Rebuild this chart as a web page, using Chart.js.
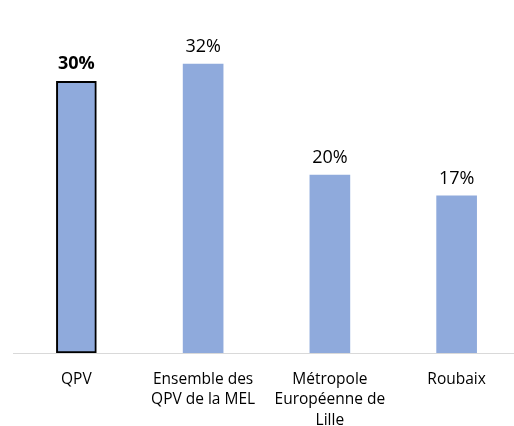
<!DOCTYPE html>
<html>
<head>
<meta charset="utf-8">
<script src="https://cdn.jsdelivr.net/npm/chart.js@4.4.0/dist/chart.umd.min.js"></script>
<style>
    html, body { margin: 0; padding: 0; background: #fff; overflow: hidden; }
    #wrap { width: 520px; height: 426px; }
</style>
</head>
<body>
<div id="wrap"><canvas id="barChart" width="520" height="426"></canvas></div>
<script>
// Data
const categories = [['QPV'], ['Ensemble des', 'QPV de la MEL'], ['Métropole', 'Européenne de', 'Lille'], ['Roubaix']];
const shares = [30.1, 32, 19.7, 17.4];

const barColor = '#8faadc';
const fontFamily = "'Open Sans', 'Liberation Sans', sans-serif";

// Value labels above bars
const valueLabels = {
    id: 'valueLabels',
    afterDatasetsDraw(chart) {
        const ctx = chart.ctx;
        const meta = chart.getDatasetMeta(0);
        ctx.save();
        ctx.textAlign = 'center';
        ctx.textBaseline = 'alphabetic';
        ctx.fillStyle = '#000';
        meta.data.forEach((bar, i) => {
            ctx.font = (i === 0 ? 'bold ' : '') + '18px ' + fontFamily;
            ctx.fillText(Math.round(shares[i]) + '%', bar.x, bar.y - 12);
        });
        ctx.restore();
    }
};

const ctx = document.getElementById('barChart').getContext('2d');
const barChart = new Chart(ctx, {
    type: 'bar',
    data: {
        labels: categories,
        datasets: [{
            data: shares,
            backgroundColor: barColor,
            borderColor: ['#000', barColor, barColor, barColor],
            borderWidth: [2, 0, 0, 0],
            borderSkipped: false,
            barThickness: 40
        }]
    },
    options: {
        responsive: false,
        animation: false,
        layout: { padding: { left: 13, right: 0, top: 37, bottom: 0 } },
        plugins: {
            legend: { display: false },
            tooltip: { enabled: false }
        },
        scales: {
            y: {
                display: false,
                min: 0,
                max: 35
            },
            x: {
                grid: { display: false, drawTicks: false },
                border: { display: true, color: '#d9d9d9', width: 1 },
                ticks: {
                    color: '#000',
                    padding: 16,
                    maxRotation: 0,
                    autoSkip: false,
                    font: { family: fontFamily, size: 15.5, lineHeight: 1.33 }
                },
                afterFit(scale) { scale.height = 73; }
            }
        }
    },
    plugins: [valueLabels]
});
</script>
</body>
</html>
